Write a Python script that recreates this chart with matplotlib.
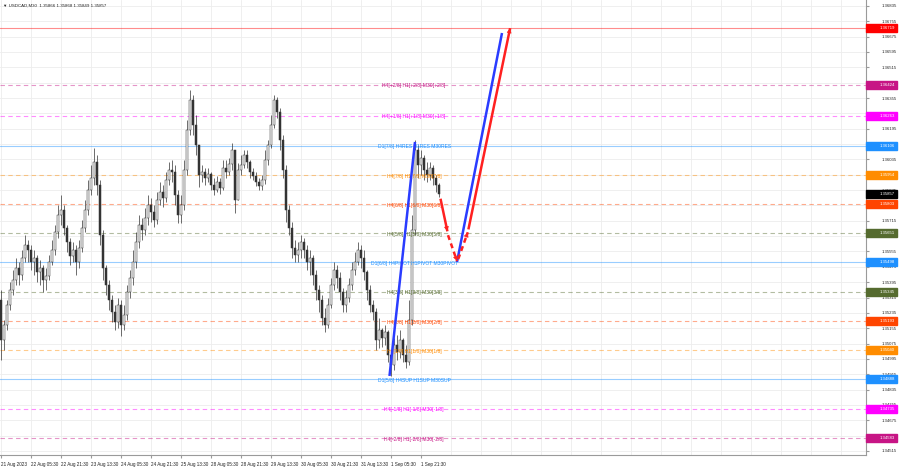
import matplotlib
matplotlib.use("Agg")
import matplotlib.pyplot as plt
import matplotlib.patches as patches
import numpy as np

plt.rcParams["font.family"] = ["Liberation Sans", "DejaVu Sans"]

title_text = "\u25bc USDCAD,M30  1.35866 1.35868 1.35849 1.35857"

# aggregated candles, prices in points (1e-5)
opens = [135302,
         135093, 135171, 135276, 135354, 135406, 135469, 135432, 135521, 135589, 135562,
         135500, 135521, 135448, 135469, 135406, 135427, 135500, 135562, 135656, 135745,
         135771, 135677, 135604, 135531, 135562, 135500, 135573, 135677, 135771, 135875,
         135938, 136021, 135901, 135641, 135469, 135380, 135302, 135239, 135187, 135276,
         135171, 135224, 135344, 135417, 135500, 135604, 135693, 135667, 135729, 135797,
         135761, 135719, 135823, 135865, 135834, 135927, 135980, 135969, 135849, 135745,
         135797, 135980, 136188, 136345, 136214, 136110, 135954, 135969, 135938, 135959,
         135901, 135875, 135917, 135886, 135990, 135969, 136011, 136084, 135823, 135980,
         136006, 136058, 136021, 135969, 135948, 135917, 135896, 135927, 136032, 136110,
         136214, 136345, 136282, 136136, 135980, 135771, 135677, 135573, 135536, 135562,
         135604, 135562, 135500, 135521, 135432, 135354, 135302, 135208, 135171, 135276,
         135380, 135458, 135417, 135344, 135276, 135312, 135380, 135458, 135500, 135562,
         135521, 135448, 135354, 135276, 135239, 135093, 135145, 135104, 135135, 135015,
         134963, 135067, 135031, 135093, 135015, 134979, 135198, 135667, 136084, 136006,
         136042, 135980, 135954, 135990, 135938, 135901]
closes = [135093, 135171, 135276, 135354, 135406, 135469, 135432, 135521, 135589, 135562,
          135500, 135521, 135448, 135469, 135406, 135427, 135500, 135562, 135656, 135745,
          135771, 135677, 135604, 135531, 135562, 135500, 135573, 135677, 135771, 135875,
          135938, 136021, 135901, 135641, 135469, 135380, 135302, 135239, 135187, 135276,
          135171, 135224, 135344, 135417, 135500, 135604, 135693, 135667, 135729, 135797,
          135761, 135719, 135823, 135865, 135834, 135927, 135980, 135969, 135849, 135745,
          135797, 135980, 136188, 136345, 136214, 136110, 135954, 135969, 135938, 135959,
          135901, 135875, 135917, 135886, 135990, 135969, 136011, 136084, 135823, 135980,
          136006, 136058, 136021, 135969, 135948, 135917, 135896, 135927, 136032, 136110,
          136214, 136345, 136282, 136136, 135980, 135771, 135677, 135573, 135536, 135562,
          135604, 135562, 135500, 135521, 135432, 135354, 135302, 135208, 135171, 135276,
          135380, 135458, 135417, 135344, 135276, 135312, 135380, 135458, 135500, 135562,
          135521, 135448, 135354, 135276, 135239, 135093, 135145, 135104, 135135, 135015,
          134963, 135067, 135031, 135093, 135015, 134979, 135198, 135667, 136084, 136006,
          136042, 135980, 135954, 135990, 135938, 135901, 135857]
highs = [135354, 135198, 135302, 135396, 135458, 135521, 135500, 135562, 135641, 135615,
         135589, 135562, 135536, 135510, 135484, 135469, 135536, 135615, 135693, 135797,
         135849, 135797, 135693, 135625, 135604, 135589, 135615, 135719, 135823, 135927,
         136006, 136094, 136058, 135927, 135667, 135484, 135406, 135328, 135276, 135312,
         135302, 135276, 135380, 135458, 135562, 135656, 135745, 135729, 135781, 135849,
         135834, 135797, 135865, 135917, 135901, 135969, 136021, 136032, 136006, 135875,
         135849, 136032, 136240, 136397, 136371, 136266, 136084, 136006, 135990, 135990,
         135969, 135938, 135948, 135938, 136032, 136032, 136042, 136120, 136084, 136016,
         136058, 136084, 136084, 136032, 135990, 135969, 135938, 135954, 136084, 136136,
         136266, 136371, 136360, 136303, 136162, 136006, 135797, 135708, 135615, 135604,
         135641, 135625, 135589, 135562, 135536, 135458, 135380, 135328, 135260, 135312,
         135417, 135500, 135484, 135448, 135364, 135354, 135417, 135500, 135552, 135604,
         135589, 135562, 135458, 135380, 135302, 135260, 135208, 135156, 135171, 135145,
         135041, 135104, 135119, 135145, 135104, 135067, 135302, 135745, 136136, 136110,
         136084, 136058, 136021, 136021, 136006, 135954, 135912]
lows = [134989, 135041, 135145, 135250, 135328, 135380, 135380, 135406, 135500, 135500,
        135458, 135432, 135396, 135380, 135344, 135354, 135406, 135484, 135536, 135625,
        135693, 135641, 135552, 135484, 135500, 135432, 135469, 135552, 135656, 135745,
        135849, 135901, 135849, 135589, 135406, 135328, 135250, 135187, 135145, 135156,
        135114, 135145, 135198, 135312, 135380, 135469, 135573, 135615, 135641, 135693,
        135708, 135682, 135698, 135797, 135787, 135813, 135901, 135917, 135797, 135703,
        135703, 135771, 135954, 136162, 136162, 136058, 135891, 135917, 135901, 135917,
        135875, 135849, 135865, 135854, 135875, 135938, 135954, 135980, 135755, 135823,
        135954, 135990, 135990, 135938, 135927, 135896, 135875, 135875, 135907, 136006,
        136094, 136199, 136251, 136084, 135938, 135708, 135641, 135521, 135500, 135500,
        135521, 135521, 135458, 135432, 135380, 135302, 135239, 135171, 135135, 135156,
        135260, 135354, 135364, 135302, 135239, 135239, 135291, 135354, 135432, 135484,
        135469, 135406, 135302, 135239, 135198, 135041, 135052, 135057, 135067, 134979,
        134906, 134937, 134989, 134999, 134979, 134947, 134963, 135171, 135641, 135938,
        135954, 135927, 135917, 135927, 135901, 135865, 135839]

time_labels = ["21 Aug 2023", "22 Aug 05:30", "22 Aug 21:30", "23 Aug 13:30", "24 Aug 05:30",
               "24 Aug 21:30", "25 Aug 13:30", "28 Aug 05:30", "28 Aug 21:30", "29 Aug 13:30",
               "30 Aug 05:30", "30 Aug 21:30", "31 Aug 13:30", "1 Sep 05:30", "1 Sep 21:30"]
time_label_bars = [0, 10, 20, 30, 40, 50, 60, 70, 80, 90, 100, 110, 120, 130, 140]

price_ticks = [1.36835 - 0.0008 * k for k in range(30)]

# Murrey math levels
level_prices = [1.36424, 1.36263, 1.36106, 1.35954, 1.35803, 1.35651, 1.35498,
                1.35345, 1.35193, 1.35040, 1.34888, 1.34735, 1.34583]
level_texts = ["H4[+2/8] H1[+2/8] M30[+2/8]", "H4[+1/8] H1[+1/8] M30[+1/8]",
               "D1[7/8] H4RES H1RES M30RES", "H4[7/8] H1[7/8] M30[7/8]",
               "H4[6/8] H1[6/8] M30[6/8]", "H4[5/8] H1[5/8] M30[5/8]",
               "D1[6/8] H4PIVOT H1PIVOT M30PIVOT", "H4[3/8] H1[3/8] M30[3/8]",
               "H4[2/8] H1[2/8] M30[2/8]", "H4[1/8] H1[1/8] M30[1/8]",
               "D1[5/8] H4SUP H1SUP M30SUP", "H4[-1/8] H1[-1/8] M30[-1/8]",
               "H4[-2/8] H1[-2/8] M30[-2/8]"]
level_colors = ["#c71585", "#ff00ff", "#1e90ff", "#ff8c00", "#ff4500", "#556b2f", "#1e90ff",
                "#556b2f", "#ff4500", "#ff8c00", "#1e90ff", "#ff00ff", "#c71585"]
level_is_daily = [False, False, True, False, False, False, True,
                  False, False, False, True, False, False]

target_price = 1.36719
last_price = 1.35857

# forecast drawings (bar index, price)
blue_lines = [([129.5, 138.0], [1.34906, 1.36126]),
              ([152.0, 167.0], [1.35500, 1.36694])]
red_solid = [([146.5, 148.8], [1.35830, 1.35660]),
             ([155.8, 169.7], [1.35670, 1.36719])]
red_dashed = [([149.0, 152.0], [1.35640, 1.35505]),
              ([152.4, 155.6], [1.35515, 1.35655])]


def main():
    o = np.array(opens) / 1e5
    c = np.array(closes) / 1e5
    h = np.array(highs) / 1e5
    l = np.array(lows) / 1e5
    x = np.arange(len(c))

    fig = plt.figure(figsize=(9, 4.68), dpi=100)
    ax = fig.add_axes([0, 13 / 468, 866 / 900, 455 / 468])
    ax.set_xlim(-1 / 3, 288.33)
    ax.set_ylim(1.34494, 1.36866)

    # grid
    for p in price_ticks:
        ax.axhline(p, color="#ededed", lw=0.6, zorder=0)
    for b in range(0, 290, 10):
        ax.axvline(b, color="#ededed", lw=0.6, zorder=0)

    # levels
    ax.axhline(target_price, color="#ff0000", lw=0.8, alpha=0.45, zorder=1)
    for p, txt, col, daily in zip(level_prices, level_texts, level_colors, level_is_daily):
        ls = "-" if daily else (0, (4, 3))
        ax.axhline(p, color=col, lw=0.8, ls=ls, alpha=0.45, zorder=1)
        ax.text(137.7, p - 0.00006, txt, color=col, fontsize=3.6, ha="center", va="center", zorder=4)

    # candles
    up = c >= o
    ax.vlines(x, l, h, color="#333333", lw=0.5, zorder=2)
    ax.bar(x[up], (c - o)[up], bottom=o[up], width=0.45, color="#f4f4f4", edgecolor="#333333", lw=0.35, zorder=3)
    ax.bar(x[~up], (c - o)[~up], bottom=o[~up], width=0.45, color="#333333", edgecolor="#333333", lw=0.35, zorder=3)

    # forecast
    for xs, ys in blue_lines:
        ax.plot(xs, ys, color="#2a3cff", lw=1.8, solid_capstyle="butt", zorder=5)
    for xs, ys in red_solid:
        ax.plot(xs, ys, color="#ff2020", lw=1.8, solid_capstyle="butt", zorder=5)
    for xs, ys in red_dashed:
        ax.plot(xs, ys, color="#ff2020", lw=1.8, ls=(0, (2, 1.5)), zorder=5)
    for xs, ys in red_solid + red_dashed:
        k = 0.25 / max(1, abs(xs[1] - xs[0]) / 2.5)
        tail = (xs[1] - k * (xs[1] - xs[0]), ys[1] - k * (ys[1] - ys[0]))
        ax.annotate("", xy=(xs[1], ys[1]), xytext=tail,
                    arrowprops=dict(arrowstyle="-|>", color="#ff2020", lw=0.5,
                                    mutation_scale=7, shrinkA=0, shrinkB=0), zorder=6)

    # axes styling
    for side in ["left", "top"]:
        ax.spines[side].set_visible(False)
    for side in ["right", "bottom"]:
        ax.spines[side].set_color("#9a9a9a")
        ax.spines[side].set_linewidth(0.8)

    ax.yaxis.tick_right()
    ax.set_yticks(price_ticks)
    ax.set_yticklabels([f"{p:.5f}" for p in price_ticks])
    ax.tick_params(axis="y", length=2, pad=9, labelsize=3.1, colors="#9a9a9a", labelcolor="#222222")
    ax.set_xticks(time_label_bars)
    ax.set_xticklabels(time_labels, ha="left")
    ax.tick_params(axis="x", length=2, pad=3, labelsize=3.3, colors="#9a9a9a", labelcolor="#222222")

    # price boxes on right axis
    box_h = 0.00042
    boxes = [(target_price, "#ff0000")] + list(zip(level_prices, level_colors)) + [(last_price, "#000000")]
    for p, col in boxes:
        rect = patches.Rectangle((1.0, p - box_h / 2), 0.036, box_h, transform=ax.get_yaxis_transform(),
                                 color=col, clip_on=False, zorder=7)
        ax.add_patch(rect)
        ax.text(1.0162, p, f"{p:.5f}", transform=ax.get_yaxis_transform(), color="white",
                fontsize=3.1, va="center", ha="left", zorder=8, clip_on=False)

    ax.text(0.003, 0.993, title_text, transform=ax.transAxes, fontsize=3.2, va="top", ha="left",
            color="#222222")

    fig.savefig("out.png", dpi=100, facecolor="white")


if __name__ == "__main__":
    main()
